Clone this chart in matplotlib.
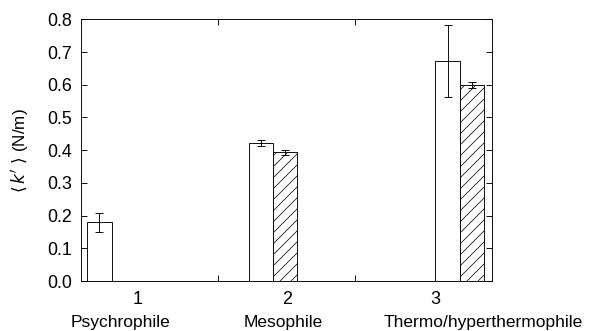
"""
Mean effective force constant by organism class
"""

import numpy as np
import matplotlib.pyplot as plt

categories = ['1', '2', '3']
class_names = ['Psychrophile', 'Mesophile', 'Thermo/hyperthermophile']

k_open = [0.18, 0.422, 0.672]
k_open_err = [0.029, 0.009, 0.11]
k_hatched = [np.nan, 0.394, 0.600]
k_hatched_err = [np.nan, 0.008, 0.009]

y_ticks = [0.0, 0.1, 0.2, 0.3, 0.4, 0.5, 0.6, 0.7, 0.8]


def main():
    """
    Docstring
    """
    dpi = 66
    plt.rcParams['font.family'] = ['Liberation Sans', 'DejaVu Sans']
    plt.rcParams['mathtext.fontset'] = 'dejavusans'
    plt.rcParams['hatch.linewidth'] = 0.8
    fs = 19

    fig = plt.figure(figsize=(601 / dpi, 331 / dpi), dpi=dpi)
    ax = fig.add_axes([0.1343, 0.151, 0.6843, 0.7907])

    # bar placement (layout only)
    open_x = np.array([0.637, 1.814, 3.177])
    width = 0.178

    ax.bar(open_x, k_open, width=width, facecolor='white', edgecolor='black',
           linewidth=1.0, zorder=2)
    ax.bar(open_x + width, k_hatched, width=width, facecolor='white',
           edgecolor='black', linewidth=1.0, hatch='//', zorder=2)
    ax.errorbar(open_x, k_open, yerr=k_open_err, fmt='none', ecolor='black',
                elinewidth=1.0, capsize=4.2, capthick=1.0, zorder=3)
    ax.errorbar(open_x + width, k_hatched, yerr=k_hatched_err, fmt='none',
                ecolor='black', elinewidth=1.0, capsize=4.2, capthick=1.0, zorder=3)

    ax.set_xlim(0.5, 3.5)
    ax.set_ylim(0, 0.8)
    ax.set_yticks(y_ticks)
    ax.set_yticklabels([f'{v:.1f}' for v in y_ticks], fontsize=fs + 0.5)
    ax.set_xticks([1.5, 2.5])
    ax.set_xticklabels([])
    ax.tick_params(direction='in', length=6.5, width=1.0, top=True, right=True,
                   pad=9)
    for spine in ax.spines.values():
        spine.set_linewidth(1.0)

    ax.set_ylabel(r"$\langle\, k^{\prime}\ \rangle$ (N/m)", fontsize=fs - 0.5,
                  labelpad=18)

    num_pos = [0.139, 0.501, 0.863]
    name_pos = [0.096, 0.493, 0.978]
    for cat, name, xn, xc in zip(categories, class_names, num_pos, name_pos):
        ax.text(xn, -0.07, cat, transform=ax.transAxes, ha='center',
                va='center', fontsize=fs + 0.5)
        ax.text(xc, -0.158, name, transform=ax.transAxes, ha='center',
                va='center', fontsize=fs)

    fig.savefig('out.png', dpi=dpi)


if __name__ == "__main__":
    main()
